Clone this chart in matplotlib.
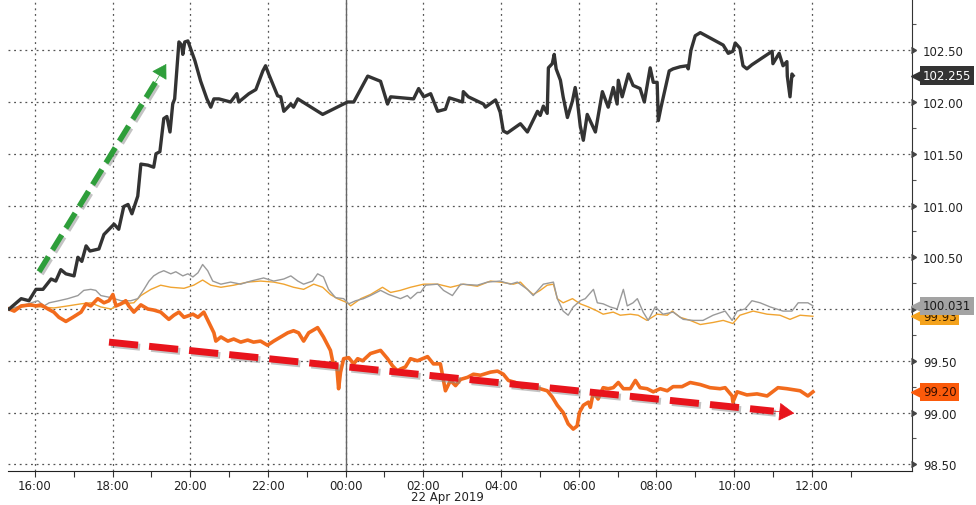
import matplotlib
matplotlib.use("Agg")
import matplotlib.pyplot as plt
import matplotlib.patheffects as pe
from matplotlib.ticker import FixedLocator, FuncFormatter
import matplotlib.transforms as mtransforms

# hours relative to 00:00 on 22 Apr 2019
black_h = [-8.66, -8.35, -8.15, -7.97, -7.79, -7.58, -7.46, -7.33, -7.20, -6.99, -6.89, -6.79, -6.68, -6.58,
           -6.35, -6.22, -6.04, -5.96, -5.84, -5.71, -5.60, -5.50, -5.35, -5.27, -5.09, -4.94, -4.88, -4.78,
           -4.68, -4.60, -4.52, -4.45, -4.40, -4.29, -4.22, -4.19, -4.14, -4.06, -3.88, -3.73, -3.57, -3.47,
           -3.39, -3.26, -2.96, -2.80, -2.75, -2.49, -2.31, -2.13, -2.06, -1.98, -1.75, -1.67, -1.59, -1.41,
           -1.34, -1.23, -0.59, 0.05, 0.21, 0.57, 0.90, 1.08, 1.16, 1.75, 1.88, 2.01, 2.19, 2.37, 2.57, 2.67,
           3.01, 3.03, 3.16, 3.55, 3.60, 3.86, 3.98, 4.06, 4.16, 4.50, 4.68, 4.94, 5.01, 5.09, 5.19, 5.22,
           5.32, 5.37, 5.42, 5.53, 5.60, 5.71, 5.84, 5.91, 5.96, 6.04, 6.12, 6.22, 6.27, 6.43, 6.61, 6.76,
           6.89, 6.99, 7.02, 7.12, 7.28, 7.40, 7.58, 7.69, 7.84, 7.92, 8.02, 8.05, 8.12, 8.33, 8.43, 8.61,
           8.79, 8.82, 8.89, 9.00, 9.13, 9.72, 9.85, 9.97, 10.03, 10.15, 10.23, 10.33, 10.46, 10.98, 11.00,
           11.16, 11.26, 11.36, 11.37, 11.44, 11.49, 11.52]
black_v = [100.00, 100.10, 100.08, 100.19, 100.19, 100.29, 100.27, 100.38, 100.34, 100.32, 100.50, 100.46,
           100.61, 100.56, 100.58, 100.72, 100.79, 100.82, 100.77, 100.99, 101.01, 100.92, 101.09, 101.40,
           101.39, 101.37, 101.50, 101.52, 101.84, 101.86, 101.71, 101.98, 102.03, 102.58, 102.55, 102.46,
           102.58, 102.59, 102.40, 102.20, 102.03, 101.95, 102.03, 102.03, 102.00, 102.08, 102.00, 102.08,
           102.12, 102.30, 102.35, 102.27, 102.06, 102.05, 101.91, 101.98, 101.95, 102.03, 101.88, 102.00,
           102.00, 102.25, 102.20, 101.98, 102.05, 102.03, 102.13, 102.05, 102.08, 101.91, 101.93, 102.04,
           102.00, 102.10, 102.05, 101.98, 101.95, 102.02, 101.90, 101.72, 101.70, 101.79, 101.71, 101.91,
           101.87, 101.96, 101.89, 102.33, 102.37, 102.46, 102.32, 102.21, 102.05, 101.85, 102.01, 102.14,
           102.03, 101.77, 101.63, 101.88, 101.84, 101.71, 102.10, 101.95, 102.14, 101.98, 102.21, 102.05,
           102.27, 102.16, 102.13, 102.00, 102.33, 102.19, 102.19, 101.82, 101.95, 102.30, 102.32, 102.34,
           102.35, 102.32, 102.50, 102.64, 102.67, 102.55, 102.47, 102.49, 102.57, 102.52, 102.35, 102.32,
           102.36, 102.49, 102.37, 102.47, 102.35, 102.39, 102.25, 102.05, 102.27, 102.255]

orange_h = [-8.66, -8.53, -8.35, -8.10, -7.97, -7.84, -7.66, -7.51, -7.38, -7.20, -7.02, -6.81, -6.68, -6.56,
            -6.38, -6.22, -6.09, -5.99, -5.91, -5.78, -5.66, -5.58, -5.45, -5.27, -5.09, -4.94, -4.76, -4.55,
            -4.42, -4.29, -4.16, -3.93, -3.80, -3.65, -3.52, -3.39, -3.34, -3.21, -3.03, -2.88, -2.70, -2.52,
            -2.37, -2.19, -2.01, -1.85, -1.67, -1.49, -1.34, -1.21, -1.08, -0.95, -0.72, -0.57, -0.39, -0.33,
            -0.23, -0.18, -0.13, -0.05, 0.08, 0.21, 0.31, 0.44, 0.64, 0.90, 1.08, 1.21, 1.34, 1.41, 1.54, 1.67,
            1.85, 2.11, 2.26, 2.44, 2.57, 2.70, 2.83, 2.96, 3.14, 3.29, 3.47, 3.73, 3.91, 4.06, 4.19, 4.37,
            4.55, 4.76, 5.01, 5.19, 5.32, 5.45, 5.60, 5.73, 5.86, 5.96, 6.02, 6.12, 6.25, 6.30, 6.38, 6.50,
            6.63, 6.76, 6.89, 7.02, 7.15, 7.33, 7.46, 7.58, 7.76, 7.92, 8.10, 8.28, 8.43, 8.66, 8.87, 9.13,
            9.38, 9.64, 9.77, 9.95, 9.97, 10.08, 10.33, 10.59, 10.85, 11.13, 11.36, 11.70, 11.90, 12.03]
orange_v = [100.00, 99.98, 100.03, 100.04, 100.03, 100.04, 100.00, 99.97, 99.92, 99.88, 99.92, 99.97, 100.05,
            100.03, 100.10, 100.06, 100.08, 100.14, 100.03, 100.05, 100.08, 100.03, 99.97, 100.04, 100.00,
            99.99, 99.97, 99.90, 99.94, 99.97, 99.92, 99.95, 99.92, 99.97, 99.87, 99.77, 99.69, 99.73, 99.69,
            99.71, 99.68, 99.70, 99.68, 99.69, 99.65, 99.69, 99.73, 99.77, 99.79, 99.77, 99.69, 99.77, 99.82,
            99.73, 99.60, 99.49, 99.46, 99.23, 99.39, 99.52, 99.53, 99.47, 99.52, 99.50, 99.57, 99.60, 99.52,
            99.45, 99.40, 99.42, 99.44, 99.52, 99.50, 99.54, 99.47, 99.47, 99.21, 99.31, 99.26, 99.32, 99.34,
            99.37, 99.36, 99.39, 99.40, 99.37, 99.31, 99.29, 99.24, 99.26, 99.23, 99.21, 99.15, 99.07, 99.00,
            98.89, 98.84, 98.87, 99.00, 99.07, 99.10, 99.05, 99.20, 99.13, 99.24, 99.23, 99.24, 99.29, 99.23,
            99.23, 99.31, 99.24, 99.23, 99.20, 99.23, 99.21, 99.25, 99.25, 99.29, 99.27, 99.24, 99.23, 99.24,
            99.16, 99.10, 99.20, 99.17, 99.18, 99.16, 99.24, 99.23, 99.21, 99.16, 99.20]

grey_h = [-8.66, -8.17, -7.92, -7.76, -7.63, -7.38, -7.15, -6.89, -6.74, -6.56, -6.43, -6.30, -6.04, -5.78,
          -5.53, -5.35, -5.19, -5.06, -4.94, -4.81, -4.68, -4.50, -4.37, -4.19, -4.06, -3.93, -3.80, -3.68,
          -3.55, -3.42, -3.21, -2.96, -2.70, -2.44, -2.11, -1.85, -1.59, -1.41, -1.23, -1.08, -0.85, -0.72,
          -0.57, -0.44, -0.26, -0.05, 0.08, 0.26, 0.46, 0.64, 0.90, 1.11, 1.34, 1.41, 1.59, 1.67, 1.85, 1.93,
          2.06, 2.37, 2.52, 2.75, 2.96, 3.39, 3.65, 3.98, 4.24, 4.42, 4.68, 4.83, 5.09, 5.35, 5.45, 5.60,
          5.73, 5.86, 6.04, 6.17, 6.38, 6.48, 6.63, 6.81, 6.99, 7.15, 7.25, 7.40, 7.51, 7.66, 7.79, 7.97,
          8.17, 8.43, 8.69, 8.95, 9.20, 9.46, 9.77, 9.95, 10.08, 10.28, 10.46, 10.67, 10.93, 11.26, 11.49,
          11.65, 11.90, 12.03]
grey_v = [100.00, 100.05, 100.08, 100.03, 100.06, 100.08, 100.10, 100.13, 100.18, 100.19, 100.18, 100.13,
          100.11, 100.08, 100.08, 100.10, 100.19, 100.27, 100.32, 100.35, 100.37, 100.34, 100.36, 100.32,
          100.34, 100.31, 100.35, 100.43, 100.37, 100.27, 100.24, 100.26, 100.24, 100.27, 100.30, 100.27,
          100.29, 100.32, 100.27, 100.24, 100.27, 100.34, 100.31, 100.19, 100.11, 100.10, 100.05, 100.08,
          100.10, 100.13, 100.18, 100.14, 100.11, 100.10, 100.13, 100.10, 100.16, 100.16, 100.23, 100.24,
          100.18, 100.13, 100.24, 100.23, 100.26, 100.27, 100.24, 100.26, 100.19, 100.13, 100.24, 100.26,
          100.10, 99.98, 99.94, 100.02, 100.08, 100.10, 100.19, 100.06, 100.05, 100.02, 100.00, 100.19,
          100.03, 100.06, 100.10, 99.97, 99.89, 100.02, 99.95, 99.97, 99.90, 99.89, 99.89, 99.94, 99.98,
          99.89, 99.98, 100.00, 100.08, 100.06, 100.02, 99.98, 99.98, 100.06, 100.06, 100.031]

yellow_h = [-8.66, -8.17, -7.84, -7.51, -7.15, -6.81, -6.56, -6.30, -6.04, -5.78, -5.45, -5.27, -5.01, -4.76,
            -4.50, -4.16, -3.91, -3.68, -3.47, -3.21, -2.88, -2.52, -2.19, -1.85, -1.59, -1.34, -1.08, -0.82,
            -0.59, -0.39, -0.21, 0.05, 0.13, 0.39, 0.64, 0.95, 1.16, 1.41, 1.67, 2.01, 2.37, 2.70, 3.03, 3.39,
            3.73, 3.98, 4.32, 4.50, 4.68, 4.83, 5.01, 5.19, 5.35, 5.45, 5.60, 5.84, 6.04, 6.25, 6.48, 6.63,
            6.89, 7.07, 7.33, 7.53, 7.76, 8.02, 8.28, 8.41, 8.61, 8.87, 9.13, 9.46, 9.72, 9.97, 10.15, 10.49,
            10.85, 11.18, 11.44, 11.70, 12.03]
yellow_v = [100.00, 100.03, 100.02, 100.01, 100.03, 100.05, 100.06, 100.02, 100.00, 100.05, 100.06, 100.13,
            100.19, 100.23, 100.21, 100.20, 100.23, 100.28, 100.23, 100.21, 100.23, 100.26, 100.27, 100.26,
            100.24, 100.21, 100.19, 100.24, 100.21, 100.14, 100.10, 100.06, 100.03, 100.10, 100.14, 100.21,
            100.16, 100.18, 100.21, 100.24, 100.24, 100.21, 100.24, 100.22, 100.27, 100.26, 100.24, 100.26,
            100.19, 100.14, 100.18, 100.23, 100.24, 100.10, 100.06, 100.10, 100.05, 100.02, 99.98, 99.95,
            99.97, 99.94, 99.95, 99.94, 99.89, 99.95, 99.94, 99.98, 99.92, 99.89, 99.85, 99.87, 99.89, 99.86,
            99.94, 99.98, 99.95, 99.94, 99.90, 99.94, 99.93]

tags = [("99.93", 99.93, "#f4a21c", "#3a2000"),
        ("100.031", 100.031, "#a3a3a3", "#1a1a1a"),
        ("99.20", 99.20, "#fb5a0a", "#3a0f00"),
        ("102.255", 102.255, "#333333", "white")]

y_ticks = [98.5, 99.0, 99.5, 100.0, 100.5, 101.0, 101.5, 102.0, 102.5]
x_major = list(range(-8, 13, 2))
x_minor = list(range(-7, 14, 2))

fig = plt.figure(figsize=(9.76, 5.06), dpi=100)
ax = fig.add_axes([8 / 976, 34 / 506, 904 / 976, 472 / 506])
ax.set_xlim(-8.69, 14.58)
ax.set_ylim(98.435, 102.995)

for s in ["left", "top"]:
    ax.spines[s].set_visible(False)
ax.spines["right"].set_color("#333333")
ax.spines["bottom"].set_color("#222222")

# grid
for y in y_ticks:
    ax.axhline(y, color="#555555", lw=0.9, ls=(0, (1.5, 3)), zorder=1)
for x in x_major:
    ax.axvline(x, color="#555555", lw=0.9, ls=(0, (1.5, 3)), zorder=1)
ax.axvline(0, color="#666666", lw=1.0, zorder=1.5)

ax.plot(yellow_h, yellow_v, color="#f0a431", lw=1.0, zorder=2)
ax.plot(grey_h, grey_v, color="#9a9a9a", lw=1.0, zorder=2.1)
ax.plot(orange_h, orange_v, color="#f26b1d", lw=2.6, zorder=3)
ax.plot(black_h, black_v, color="#333333", lw=2.4, zorder=4, solid_joinstyle="round")

shadow = [pe.SimpleLineShadow(offset=(1.5, -1.5), shadow_color="#888888", alpha=0.5), pe.Normal()]

# green up arrow
g0, g1 = (-7.89, 100.36), (-4.58, 102.39)
ax.plot([g0[0], g1[0] - 0.25], [g0[1], g1[1] - 0.16], color="#2e9e3a", lw=4.0,
        ls=(0, (3.2, 1.4)), zorder=6, path_effects=shadow, solid_capstyle="butt")
ax.annotate("", xy=g1, xytext=(g1[0] - 0.35, g1[1] - 0.22),
            arrowprops=dict(arrowstyle="-|>,head_length=0.9,head_width=0.55", color="#2e9e3a", lw=0.5),
            zorder=6)

# red down arrow
r0, r1 = (-6.09, 99.68), (11.62, 98.99)
ax.plot([r0[0], r1[0] - 0.6], [r0[1], r1[1] + 0.023], color="#e8141c", lw=5.0,
        ls=(0, (4.2, 1.6)), zorder=6, path_effects=shadow, solid_capstyle="butt")
ax.annotate("", xy=r1, xytext=(r1[0] - 0.8, r1[1] + 0.031),
            arrowprops=dict(arrowstyle="-|>,head_length=1.0,head_width=0.6", color="#e8141c", lw=0.5),
            zorder=6)

# axes ticks
ax.yaxis.tick_right()
ax.set_yticks(y_ticks)
ax.yaxis.set_major_formatter(FuncFormatter(lambda v, p: f"{v:.2f}"))
ax.yaxis.set_minor_locator(FixedLocator([98.75, 99.25, 99.75, 100.25, 100.75, 101.25, 101.75, 102.25, 102.75]))
ax.tick_params(axis="y", which="major", length=0, pad=8, labelsize=8.5, labelcolor="#222222")
ax.tick_params(axis="y", which="minor", length=3, width=0.8, color="#555555", direction="out")
trans = mtransforms.blended_transform_factory(ax.transAxes, ax.transData)
ax.plot([1.004] * len(y_ticks), y_ticks, ls="none", marker=5, ms=5, color="#444444",
        transform=trans, clip_on=False, zorder=7)

ax.set_xticks(x_major)
ax.xaxis.set_minor_locator(FixedLocator(x_minor))
ax.xaxis.set_major_formatter(FuncFormatter(lambda h, p: f"{int(h) % 24:02d}:00"))
ax.tick_params(axis="x", which="both", length=4, width=0.8, color="#333333", pad=1.5,
               labelsize=8.5, labelcolor="#222222")
transx = mtransforms.blended_transform_factory(ax.transData, ax.transAxes)
ax.text(2.62, -0.054, "22 Apr 2019", transform=transx, ha="center", va="center",
        fontsize=8.5, color="#222222")

# last value tags
for i, (txt, val, bg, fg) in enumerate(tags):
    z = 10 + i
    ax.plot([1.006], [val], ls="none", marker="<", ms=8, color=bg, transform=trans,
            clip_on=False, zorder=z)
    ax.text(1.012, val, txt, transform=trans, ha="left", va="center", fontsize=8.5, color=fg,
            zorder=z, clip_on=False,
            bbox=dict(boxstyle="square,pad=0.22", fc=bg, ec="none"))

fig.savefig("out.png", dpi=100)
